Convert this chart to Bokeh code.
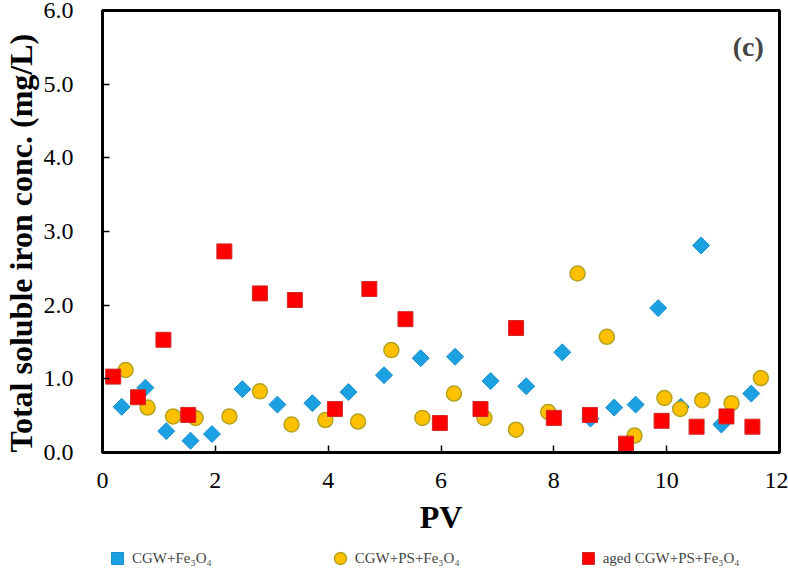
import math
from bokeh.plotting import figure
from bokeh.layouts import column
from bokeh.models import (ColumnDataSource, Legend, LegendItem, FixedTicker,
                          PrintfTickFormatter, Label, Range1d, Title)
from bokeh.embed import file_html
from bokeh.resources import INLINE

# ---- data ----
pv_cgw = [0.34, 0.76, 1.13, 1.56, 1.94, 2.48, 3.10, 3.72, 4.36, 4.99, 5.64, 6.25,
          6.88, 7.51, 8.15, 8.65, 9.07, 9.45, 9.85, 10.25, 10.61, 10.97, 11.50]
fe_cgw = [0.62, 0.88, 0.29, 0.16, 0.25, 0.86, 0.65, 0.67, 0.82, 1.05, 1.28, 1.30,
          0.97, 0.90, 1.36, 0.46, 0.61, 0.65, 1.96, 0.62, 2.81, 0.38, 0.80]

pv_ps = [0.41, 0.80, 1.25, 1.65, 2.25, 2.79, 3.35, 3.95, 4.53, 5.12, 5.67, 6.23,
         6.77, 7.33, 7.90, 8.42, 8.94, 9.43, 9.96, 10.24, 10.63, 11.15, 11.67]
fe_ps = [1.12, 0.61, 0.49, 0.47, 0.49, 0.83, 0.38, 0.44, 0.42, 1.39, 0.47, 0.80,
         0.47, 0.31, 0.55, 2.43, 1.57, 0.23, 0.74, 0.59, 0.71, 0.67, 1.01]

pv_aged = [0.19, 0.63, 1.08, 1.52, 2.16, 2.79, 3.41, 4.12, 4.73, 5.37, 5.98, 6.70,
           7.33, 8.00, 8.64, 9.28, 9.91, 10.53, 11.06, 11.52]
fe_aged = [1.03, 0.75, 1.53, 0.51, 2.73, 2.16, 2.07, 0.59, 2.22, 1.81, 0.40, 0.59,
           1.69, 0.47, 0.51, 0.12, 0.43, 0.35, 0.49, 0.35]

series_names = ["CGW+Fe\u2083O\u2084", "CGW+PS+Fe\u2083O\u2084", "aged CGW+PS+Fe\u2083O\u2084"]
x_ticks = [0, 2, 4, 6, 8, 10, 12]
y_ticks = [0, 1, 2, 3, 4, 5, 6]
x_title = "PV"
y_title = "Total soluble iron conc. (mg/L)"
panel_label = "(c)"

SERIF = "Liberation Serif"
STYLES = [dict(marker="square", angle=math.pi / 4, size=12,
               fill_color="#1BA1E2", line_color="#1A8FD0", line_width=1),
          dict(marker="circle", size=15,
               fill_color="#FFC000", line_color="#B5A21E", line_width=1.5),
          dict(marker="square", size=15,
               fill_color="#FF0000", line_color="#D02828", line_width=1)]

p = figure(frame_width=677, frame_height=442, output_backend="svg", toolbar_location=None,
           x_range=Range1d(0, 12), y_range=Range1d(0, 6),
           min_border_left=102, min_border_right=9, min_border_top=10, min_border_bottom=0)

p.xgrid.visible = False
p.ygrid.visible = False
p.outline_line_color = "black"
p.outline_line_width = 3
p.background_fill_color = "white"
p.border_fill_color = "white"

sources = [ColumnDataSource(dict(x=pv_cgw, y=fe_cgw)),
           ColumnDataSource(dict(x=pv_ps, y=fe_ps)),
           ColumnDataSource(dict(x=pv_aged, y=fe_aged))]

for src, st in zip(sources, STYLES):
    p.scatter("x", "y", source=src, **st)

for ax in (p.xaxis[0], p.yaxis[0]):
    ax.axis_line_width = 3
    ax.axis_line_color = "black"
    ax.major_tick_in = 7
    ax.major_tick_out = 0
    ax.major_tick_line_width = 1.5
    ax.minor_tick_line_color = None
    ax.major_label_text_font = SERIF
    ax.major_label_text_font_size = "24px"
    ax.major_label_text_color = "black"
    ax.axis_label_text_font = SERIF
    ax.axis_label_text_font_style = "bold"
    ax.axis_label_text_color = "black"

p.xaxis[0].ticker = FixedTicker(ticks=x_ticks)
p.yaxis[0].ticker = FixedTicker(ticks=y_ticks)
p.yaxis[0].formatter = PrintfTickFormatter(format="%.1f")
p.xaxis[0].major_label_standoff = 20
p.yaxis[0].major_label_standoff = 29
p.xaxis[0].axis_label = x_title
p.xaxis[0].axis_label_text_font_size = "32px"
p.xaxis[0].axis_label_standoff = 8

p.add_layout(Title(text=y_title, align="left", vertical_align="top", text_font=SERIF,
                   text_font_size="32px", text_font_style="bold", text_color="black",
                   standoff=0, offset=0),
             "left")

p.add_layout(Label(x=11.72, y=5.51, text=panel_label, text_font=SERIF,
                   text_font_style="bold", text_font_size="28px",
                   text_align="right", text_baseline="middle"))

# ---- legend strip below the chart ----
q = figure(width=788, height=29, output_backend="svg", toolbar_location=None,
           x_range=Range1d(20, 21), y_range=Range1d(20, 21),
           x_axis_location=None, y_axis_location=None,
           min_border_left=0, min_border_right=0, min_border_top=0, min_border_bottom=0)
q.xgrid.visible = False
q.ygrid.visible = False
q.outline_line_color = None
q.background_fill_color = "white"
q.border_fill_color = "white"
leg_renderers = [q.scatter("x", "y", source=src, **st) for src, st in zip(sources, STYLES)]

legend = Legend(items=[LegendItem(label=n, renderers=[r])
                       for n, r in zip(series_names, leg_renderers)],
                orientation="horizontal", location=(0, -7),
                label_text_font=SERIF, label_text_font_size="15px",
                label_standoff=0, glyph_width=30, glyph_height=30, spacing=113,
                border_line_alpha=0, background_fill_alpha=0, padding=0, margin=0)
q.add_layout(legend, "center")

layout = column(p, q, spacing=0)
open("out.html", "w").write(file_html(layout, INLINE))
